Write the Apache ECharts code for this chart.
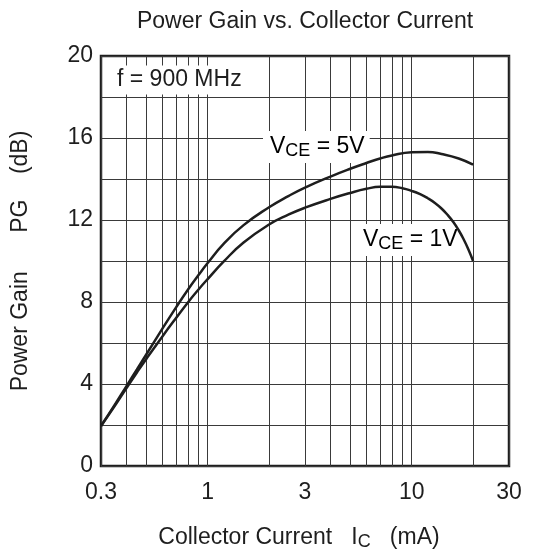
<!DOCTYPE html>
<html>
<head>
<meta charset="utf-8">
<script src="https://cdn.jsdelivr.net/npm/echarts@6/dist/echarts.min.js"></script>
<style>
  html, body { margin: 0; padding: 0; background: #ffffff; }
  #chart { width: 533px; height: 556px; }
</style>
</head>
<body>
<div id="chart"></div>
<script>
  // collector current Ic (mA) and power gain PG (dB)
  var icVce5 = [0.3, 0.35, 0.4, 0.45, 0.5, 0.6, 0.7, 0.8, 0.9, 1.0, 1.2, 1.5, 2, 2.5, 3, 4, 5, 6, 7, 8, 10, 12, 14, 17, 20];
  var pgVce5 = [1.95, 2.98, 3.9, 4.71, 5.44, 6.7, 7.74, 8.6, 9.3, 9.9, 10.85, 11.75, 12.62, 13.18, 13.58, 14.12, 14.5, 14.78, 15.0, 15.15, 15.3, 15.32, 15.22, 15.0, 14.7];
  var icVce1 = [0.3, 0.35, 0.4, 0.45, 0.5, 0.6, 0.7, 0.8, 0.9, 1.0, 1.2, 1.5, 2, 2.5, 3, 4, 5, 6, 7, 8, 9, 10, 11, 12, 13, 14, 15, 16, 17, 18, 19, 20];
  var pgVce1 = [1.95, 2.92, 3.8, 4.56, 5.22, 6.32, 7.22, 7.98, 8.6, 9.12, 9.98, 10.9, 11.78, 12.27, 12.6, 13.03, 13.32, 13.52, 13.62, 13.62, 13.55, 13.42, 13.26, 13.06, 12.83, 12.56, 12.25, 11.9, 11.5, 11.05, 10.55, 10.0];

  // axis ticks
  var xGridValues = [0.3, 0.4, 0.5, 0.6, 0.7, 0.8, 0.9, 1, 2, 3, 4, 5, 6, 7, 8, 9, 10, 20, 30];
  var xLabelValues = [0.3, 1, 3, 10, 30];
  var yLabelValues = [0, 4, 8, 12, 16, 20];

  var FONT = 'Liberation Sans, Arial, Helvetica, sans-serif';
  var INK = '#1e1e1e';

  function pairs(xs, ys) {
    return xs.map(function (x, i) { return [x, ys[i]]; });
  }

  function vceLabel(val) {
    return '{v|V}{s|CE}{v| = ' + val + '}';
  }
  var vceRich = {
    v: {fontSize: 23, fontFamily: FONT, color: INK},
    s: {fontSize: 18, fontFamily: FONT, color: INK, padding: [8, 0, 0, 0]}
  };

  var myChart = echarts.init(document.getElementById('chart'));

  var option = {
    animation: false,
    backgroundColor: '#ffffff',
    grid: {
      left: 101, right: 24, top: 56, bottom: 84,
      show: true, borderColor: INK, borderWidth: 2.5, backgroundColor: 'transparent'
    },
    xAxis: {
      type: 'log',
      logBase: 10,
      min: 0.3,
      max: 30,
      axisLine: {show: false},
      axisTick: {show: false, customValues: xGridValues},
      splitLine: {show: true, lineStyle: {color: '#3a3a3a', width: 1}},
      axisLabel: {
        customValues: xLabelValues,
        margin: 15,
        color: INK,
        fontSize: 23,
        fontFamily: FONT,
        formatter: function (v) { return String(+Number(v).toPrecision(3)); }
      },
      name: '{a|Collector Current   I}{s|C}{a|   (mA)}',
      nameLocation: 'middle',
      nameGap: 59,
      nameTextStyle: {
        padding: [0, 12, 0, 0],
        rich: {
          a: {fontSize: 23, fontFamily: FONT, color: INK},
          s: {fontSize: 18, fontFamily: FONT, color: INK, padding: [8, 0, 0, 0]}
        }
      }
    },
    yAxis: {
      type: 'value',
      min: 0,
      max: 20,
      interval: 2,
      axisLine: {show: false},
      axisTick: {show: false},
      splitLine: {show: true, lineStyle: {color: '#3a3a3a', width: 1}},
      axisLabel: {
        customValues: yLabelValues,
        margin: 8,
        color: INK,
        fontSize: 23,
        fontFamily: FONT
      },
      name: 'Power Gain      PG    (dB)',
      nameLocation: 'middle',
      nameGap: 69,
      nameTextStyle: {fontSize: 23, fontFamily: FONT, color: INK}
    },
    graphic: [
      {
        type: 'text', x: 305, y: 22, z: 1,
        style: {
          text: 'Power Gain vs. Collector Current',
          fontSize: 23, fontFamily: FONT, fill: INK,
          align: 'center', verticalAlign: 'middle'
        }
      },
      {
        type: 'text', x: 110, y: 80, z: 1,
        style: {
          text: 'f = 900 MHz',
          fontSize: 23, fontFamily: FONT, fill: INK,
          align: 'left', verticalAlign: 'middle',
          backgroundColor: '#ffffff', padding: [3, 7, 3, 7]
        }
      },
      {
        type: 'text', x: 263, y: 147, z: 1,
        style: {
          text: vceLabel('5V'), rich: vceRich,
          align: 'left', verticalAlign: 'middle',
          backgroundColor: '#ffffff', padding: [3, 5, 3, 7]
        }
      },
      {
        type: 'text', x: 356, y: 240, z: 1,
        style: {
          text: vceLabel('1V'), rich: vceRich,
          align: 'left', verticalAlign: 'middle',
          backgroundColor: '#ffffff', padding: [3, 5, 3, 7]
        }
      }
    ],
    series: [
      {
        name: 'VCE = 5V',
        type: 'line',
        data: pairs(icVce5, pgVce5),
        smooth: true,
        symbol: 'none',
        z: 5,
        lineStyle: {color: INK, width: 2.5}
      },
      {
        name: 'VCE = 1V',
        type: 'line',
        data: pairs(icVce1, pgVce1),
        smooth: true,
        symbol: 'none',
        z: 5,
        lineStyle: {color: INK, width: 2.5}
      }
    ]
  };

  myChart.setOption(option);
</script>
</body>
</html>
